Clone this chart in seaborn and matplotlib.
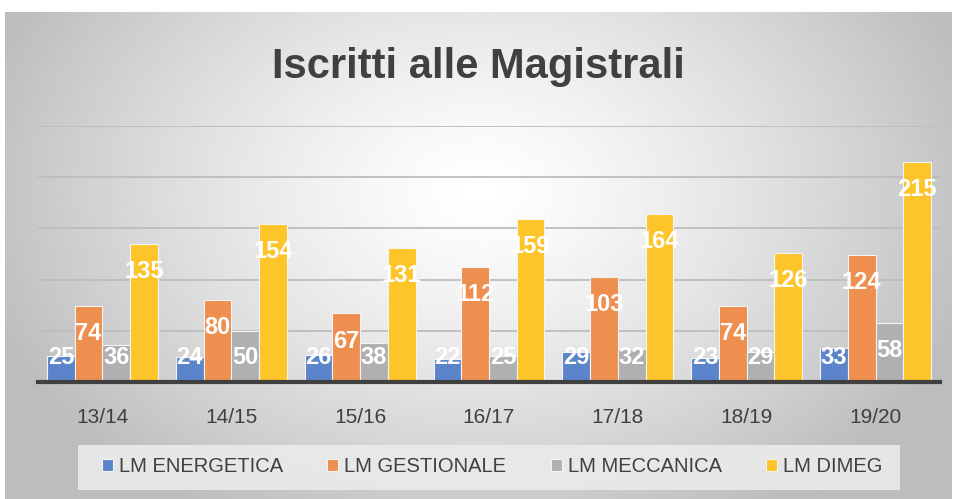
import pandas as pd
import seaborn as sns
import numpy as np
import matplotlib.pyplot as plt
from matplotlib.patches import Rectangle

# data
anni = ['13/14', '14/15', '15/16', '16/17', '17/18', '18/19', '19/20']
energetica = [25, 24, 26, 22, 29, 23, 33]
gestionale = [74, 80, 67, 112, 103, 74, 124]
meccanica = [36, 50, 38, 25, 32, 29, 58]
dimeg = [135, 154, 131, 159, 164, 126, 215]
serie = ['LM ENERGETICA', 'LM GESTIONALE', 'LM MECCANICA', 'LM DIMEG']
colori = ['#5B84CA', '#EE8E4F', '#B0B0B0', '#FEC52A']

df = pd.DataFrame({'anno': anni * 4,
                   'corso': [s for s in serie for _ in anni],
                   'iscritti': energetica + gestionale + meccanica + dimeg})

sns.set_theme(style='white')
plt.rcParams['font.family'] = ['Liberation Sans', 'DejaVu Sans']

fig = plt.figure(figsize=(9.56, 4.99), dpi=100)

# radial grey background like the excel chart area
bg = fig.add_axes([0.005, 0.0, 0.99, 0.975])
yy, xx = np.mgrid[0:300, 0:600]
r = np.sqrt(((xx - 300) / 330.0) ** 2 + ((yy - 110) / 230.0) ** 2)
shade = np.clip(1.0 - 0.26 * r ** 1.3, 0.74, 1.0)
bg.imshow(shade, cmap='gray', vmin=0, vmax=1, aspect='auto', interpolation='bilinear')
bg.axis('off')

ax = fig.add_axes([38 / 956, 1 - 382 / 499, 902 / 956, 256 / 499])
ax.patch.set_alpha(0)
sns.barplot(data=df, x='anno', y='iscritti', hue='corso', palette=colori, saturation=1,
            width=0.86, edgecolor='#f4f4f4', linewidth=0.8, ax=ax, legend=True)

ax.set_ylim(0, 250)
ax.set_xlim(-0.5, 6.5)
ax.set_yticks([50, 100, 150, 200, 250])
ax.yaxis.grid(True, color='#bdbdbd', linewidth=1.3)
ax.set_axisbelow(True)
ax.set_yticklabels([])
ax.tick_params(axis='y', length=0)
ax.tick_params(axis='x', length=0, labelsize=15, labelcolor='#404040', pad=19)
for s in ['top', 'right', 'left']:
    ax.spines[s].set_visible(False)
ax.spines['bottom'].set_color('#404040')
ax.spines['bottom'].set_linewidth(3)
ax.set_xlabel('')
ax.set_ylabel('')

# white labels near the top of each bar
for cont in ax.containers:
    for bar in cont:
        h = bar.get_height()
        ax.text(bar.get_x() + bar.get_width() / 2, max(h - 27, 23.5), f'{h:.0f}',
                ha='center', va='center', color='white', fontsize=17, fontweight='bold')

fig.text(0.5, 1 - 67 / 499, 'Iscritti alle Magistrali', ha='center', va='center',
         fontsize=30, fontweight='bold', color='#404040')

# legend box
fig.patches.append(Rectangle((78 / 956, 1 - 490 / 499), 822 / 956, 45 / 499,
                             transform=fig.transFigure, facecolor='#ebebeb',
                             edgecolor='none', alpha=0.9))
handles, labels = ax.get_legend_handles_labels()
ax.legend_.remove()
fig.legend(handles, labels, loc='center', bbox_to_anchor=(492 / 956, 1 - 467 / 499),
           ncol=4, frameon=False, fontsize=14.5, handlelength=0.55, handleheight=0.55,
           handletextpad=0.3, columnspacing=2.2, labelcolor='#404040')

plt.savefig('out.png', dpi=100)
